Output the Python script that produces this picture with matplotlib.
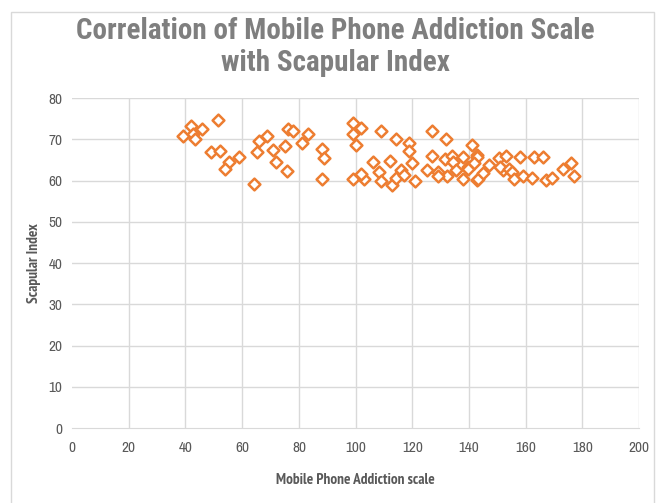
import matplotlib.pyplot as plt
from matplotlib.patches import Rectangle

# Mobile phone addiction score vs scapular index
addiction = [39, 42, 42.8, 43.3, 46, 51.3, 49.1, 52.2, 55.2, 54.1, 59, 64.2, 65.1, 66,
             68.9, 71, 72, 75.1, 75.9, 76, 78, 81, 83.1, 88, 89, 88,
             99, 99, 101.9, 100.2, 109, 114.2, 118.9, 118.9, 106, 112.2, 119.8, 99,
             103.1, 101.9, 108.3, 109, 112.8, 114.3, 116, 117.1, 121, 125.1, 127.1,
             131.9, 141, 127.1, 129.2, 131.6, 133.9, 134.5, 135.4, 138, 139.8, 142.7,
             138, 142.7, 132.2, 128.9,
             142.7, 141.8, 139.8, 143, 144.8, 147.2, 150.7, 153.1, 151.9, 151, 154.2,
             155.1, 155.9, 158, 158.9, 162.1, 163, 166, 167.2, 169.2, 173, 176, 177]
scapular = [70.8, 73.3, 71.4, 70.1, 72.4, 74.7, 67, 67.2, 64.4, 62.9, 65.6, 59.1, 67, 69.6,
            70.8, 67.3, 64.4, 68.5, 62.3, 72.5, 72, 69.1, 71.3, 67.6, 65.4, 60.3,
            73.9, 71.4, 72.7, 68.6, 72.1, 70, 69.2, 67.1, 64.6, 64.7, 64.3, 60.3,
            60.3, 61.6, 62.2, 59.8, 59, 60.6, 62.6, 61.4, 60, 62.6, 71.9,
            70, 68.6, 65.9, 62.2, 65.3, 65.9, 64.4, 62.6, 65.8, 63.4, 66.2,
            60.3, 60.1, 61, 61,
            65.8, 64.3, 62.9, 60.3, 61.9, 63.8, 65.4, 65.9, 62.6, 63.4, 62.9,
            62.2, 60.3, 65.8, 61, 60.7, 65.8, 65.8, 60.2, 60.7, 62.7, 64.3, 61]

x_ticks = list(range(0, 201, 20))
y_ticks = list(range(0, 81, 10))

title_font = ['Roboto Condensed', 'DejaVu Sans']
label_font = ['PT Sans Narrow', 'DejaVu Sans']
tick_font = ['Archivo Narrow', 'DejaVu Sans']
grey = '#595959'

fig = plt.figure(figsize=(6.7, 5.03), dpi=100)
ax = fig.add_axes([0.1075, 0.149, 0.8465, 0.656])

# outer chart frame
fig.patches.append(Rectangle((11 / 670, -0.1), 643 / 670, 1.076,
                             transform=fig.transFigure, fill=False,
                             edgecolor='#d9d9d9', linewidth=1))

ax.scatter(addiction, scapular, marker='D', s=36, facecolors='white',
           edgecolors='#ed7d31', linewidths=1.8, zorder=3)

ax.set_xlim(0, 200)
ax.set_ylim(0, 80)
ax.set_xticks(x_ticks)
ax.set_yticks(y_ticks)
ax.grid(True, color='#d9d9d9', linewidth=1)
ax.set_axisbelow(True)
ax.xaxis.get_gridlines()[0].set_visible(False)
ax.yaxis.get_gridlines()[0].set_visible(False)
for side in ['top', 'right', 'left']:
    ax.spines[side].set_visible(False)
ax.spines['bottom'].set_color('#d9d9d9')
ax.tick_params(length=0, labelsize=11, labelcolor=grey)
ax.tick_params(axis='x', pad=9)
ax.tick_params(axis='y', pad=7)
for lbl in ax.get_xticklabels() + ax.get_yticklabels():
    lbl.set_family(tick_font)

ax.set_xlabel('Mobile Phone Addiction scale', family=label_font, fontsize=11,
              fontweight='bold', color=grey, labelpad=13)
ax.set_ylabel('Scapular Index', family=label_font, fontsize=11,
              fontweight='bold', color=grey, labelpad=5)

fig.text(0.5, 0.907, 'Correlation of Mobile Phone Addiction Scale\nwith Scapular Index',
         ha='center', va='center', family=title_font, fontsize=21, fontweight='bold',
         color='#7f7f7f', linespacing=1.2)

fig.savefig('out.png', dpi=100)
